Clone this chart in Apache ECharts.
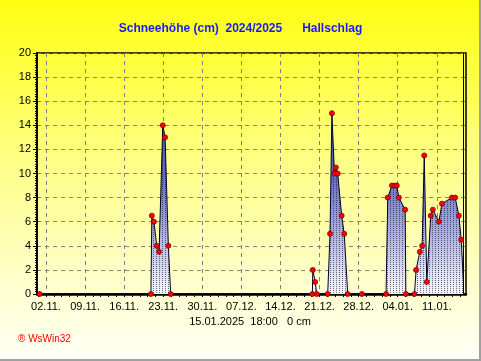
<!DOCTYPE html>
<html><head><meta charset="utf-8">
<script src="https://cdn.jsdelivr.net/npm/echarts@6/dist/echarts.min.js"></script>
<style>html,body{margin:0;padding:0;background:#fff;} #c{width:481px;height:361px;}</style>
</head><body><div id="c"></div>
<script>
// ---- texts ----
const titleText = 'Schneehöhe (cm)  2024/2025      Hallschlag';
const subText = '15.01.2025  18:00   0 cm';
const footText = '® WsWin32';

// ---- x axis (weekly tick dates and labels) ----
const tickDates = ['2024-11-02','2024-11-09','2024-11-16','2024-11-23','2024-11-30','2024-12-07','2024-12-14','2024-12-21','2024-12-28','2025-01-04','2025-01-11'];
const tickLabels = ['02.11.','09.11.','16.11.','23.11.','30.11.','07.12.','14.12.','21.12.','28.12.','04.01.','11.01.'];
const axisStart = '2024-10-31 09:20';
const axisEnd = '2025-01-16 05:30';

// ---- y axis ----
const yMin = 0, yMax = 20, yStep = 2;

// ---- measurements (snow depth, cm) ----
const measTimes = [
  '2024-10-31 21:00',
  '2024-11-20 19:00','2024-11-20 23:00','2024-11-21 08:00','2024-11-21 20:00','2024-11-22 06:00','2024-11-22 22:00','2024-11-23 08:00','2024-11-23 22:00','2024-11-24 08:00',
  '2024-12-19 17:00','2024-12-19 19:00','2024-12-20 05:00','2024-12-20 12:00',
  '2024-12-22 11:00','2024-12-22 21:00','2024-12-23 05:00','2024-12-23 16:00','2024-12-23 22:00','2024-12-24 06:00','2024-12-24 23:00','2024-12-25 10:00','2024-12-26 01:00',
  '2024-12-28 14:00',
  '2025-01-01 22:00','2025-01-02 05:00','2025-01-02 23:00','2025-01-03 10:00','2025-01-03 20:00','2025-01-04 05:00','2025-01-05 08:00','2025-01-05 11:00',
  '2025-01-07 00:00','2025-01-07 07:00','2025-01-07 23:00','2025-01-08 09:00','2025-01-08 18:00','2025-01-09 05:00','2025-01-09 22:00','2025-01-10 07:00','2025-01-11 09:00','2025-01-11 22:00','2025-01-13 17:00','2025-01-14 07:00','2025-01-14 23:00','2025-01-15 09:00'
];
const measDepth = [
  0,
  0, 6.5, 6.0, 4.0, 3.5, 14, 13, 4.0, 0,
  0, 2.0, 1.0, 0,
  0, 5.0, 15, 10, 10.5, 10, 6.5, 5.0, 0,
  0,
  0, 8, 9, 9, 9, 8, 7, 0,
  0, 2.0, 3.5, 4.0, 11.5, 1.0, 6.5, 7.0, 6.0, 7.5, 8.0, 8.0, 6.5, 4.5
];
const lastTime = '2025-01-15 18:00';
const lastDepth = 1.2;

// ---- helpers ----
function ts(s) {
  const parts = s.split(' ');
  const d = parts[0].split('-').map(Number);
  const t = (parts[1] || '00:00').split(':').map(Number);
  return new Date(d[0], d[1] - 1, d[2], t[0], t[1]).getTime();
}
const DAY = 86400000;
const tMin = ts(axisStart), tMax = ts(axisEnd);
const weekTs = tickDates.map(ts);
const minorTs = [];
for (let w = weekTs[0] - 7 * DAY; w <= tMax; w += 7 * DAY) {
  for (let k = 0; k < 5; k++) {
    const v = w + k * 7 * DAY / 5;
    if (v >= tMin && v <= tMax) minorTs.push(v);
  }
}
const lineData = measTimes.map((t, i) => [ts(t), measDepth[i]]).concat([[ts(lastTime), lastDepth]]);
const dotData = measTimes.map((t, i) => [ts(t), measDepth[i]]);

// hatch pattern
const pc = document.createElement('canvas');
pc.width = 3; pc.height = 2;
const pctx = pc.getContext('2d');
pctx.fillStyle = 'rgba(0,0,0,0.55)';
pctx.fillRect(0, 0, 1, 1);

const FONT = '"Liberation Sans", Arial, sans-serif';
const gridLine = { show: true, lineStyle: { color: '#808080', type: [4, 4], width: 1 } };

const chart = echarts.init(document.getElementById('c'), null, { renderer: 'canvas' });
chart.setOption({
  animation: false,
  backgroundColor: {
    type: 'linear', x: 0, y: 0, x2: 0, y2: 1,
    colorStops: [
      { offset: 0, color: '#ffff10' },
      { offset: 0.45, color: '#ffff88' },
      { offset: 1, color: '#fffff8' }
    ]
  },
  title: {
    text: titleText, left: 'center', top: 18,
    textStyle: { fontSize: 12, fontWeight: 'bold', color: '#1a1aff', fontFamily: FONT }
  },
  grid: { left: 37, right: 15, top: 53, bottom: 67, show: true, borderColor: '#000', borderWidth: 1.5, backgroundColor: 'transparent' },
  xAxis: [{
    type: 'value', position: 'bottom', min: tMin, max: tMax,
    axisLine: { show: true, onZero: false, lineStyle: { color: '#000', width: 2.5 } },
    axisTick: { show: true, inside: false, length: 3, customValues: minorTs, lineStyle: { color: '#000' } },
    axisLabel: {
      show: true, customValues: weekTs, margin: 7, fontSize: 11, color: '#000', fontFamily: FONT,
      formatter: function (v) {
        let best = 0;
        weekTs.forEach((w, i) => { if (Math.abs(w - v) < Math.abs(weekTs[best] - v)) best = i; });
        return tickLabels[best];
      }
    },
    splitLine: { show: false }
  }, {
    type: 'value', position: 'top', min: tMin, max: tMax,
    axisLine: { show: false },
    axisTick: { show: true, inside: true, length: 3, customValues: weekTs, lineStyle: { color: '#000' } },
    axisLabel: { show: false, customValues: weekTs },
    splitLine: gridLine
  }],
  yAxis: {
    type: 'value', min: yMin, max: yMax, interval: yStep,
    axisLine: { show: true, lineStyle: { color: '#000', width: 2 } },
    axisTick: { show: true, inside: false, length: 4, lineStyle: { color: '#000' } },
    minorTick: { show: true, splitNumber: 10, length: 2, lineStyle: { color: '#000' } },
    axisLabel: { fontSize: 11, color: '#000', margin: 6, fontFamily: FONT },
    splitLine: gridLine
  },
  series: [{
    name: 'fill', type: 'line', xAxisIndex: 0, data: lineData, showSymbol: false, z: 2,
    lineStyle: { width: 0 },
    areaStyle: {
      opacity: 1,
      color: { type: 'linear', x: 0, y: 53, x2: 0, y2: 294, global: true,
        colorStops: [
          { offset: 0, color: '#3038a8' },
          { offset: 0.5, color: '#6068c0' },
          { offset: 1, color: '#f8f8ff' }
        ] }
    }
  }, {
    name: 'hatch', type: 'line', xAxisIndex: 0, data: lineData, showSymbol: false, z: 3,
    lineStyle: { width: 1, color: '#000028' },
    areaStyle: { opacity: 1, color: { image: pc, repeat: 'repeat' } },
    markLine: {
      silent: true, symbol: 'none', label: { show: false },
      lineStyle: { color: '#000', type: 'solid', width: 1 },
      data: [{ xAxis: ts(lastTime) }]
    }
  }, {
    name: 'dots', type: 'scatter', xAxisIndex: 0, data: dotData, z: 5,
    symbol: 'circle', symbolSize: 5,
    itemStyle: { color: '#ff0000', borderColor: '#800000', borderWidth: 0.8, opacity: 1 }
  }],
  graphic: [
    { type: 'text', x: 250, y: 322, style: { text: subText, font: '11px ' + FONT, fill: '#000', align: 'center', verticalAlign: 'middle', textAlign: 'center', textVerticalAlign: 'middle' } },
    { type: 'text', x: 18, y: 339, style: { text: footText, font: '10px ' + FONT, fill: '#ff0000', align: 'left', verticalAlign: 'middle', textAlign: 'left', textVerticalAlign: 'middle' } },
    { type: 'line', shape: { x1: 480, y1: 0, x2: 480, y2: 361 }, style: { stroke: '#a0a0a0', lineWidth: 2 } },
    { type: 'line', shape: { x1: 0, y1: 360, x2: 481, y2: 360 }, style: { stroke: '#a0a0a0', lineWidth: 2 } }
  ]
});
</script>
</body></html>
